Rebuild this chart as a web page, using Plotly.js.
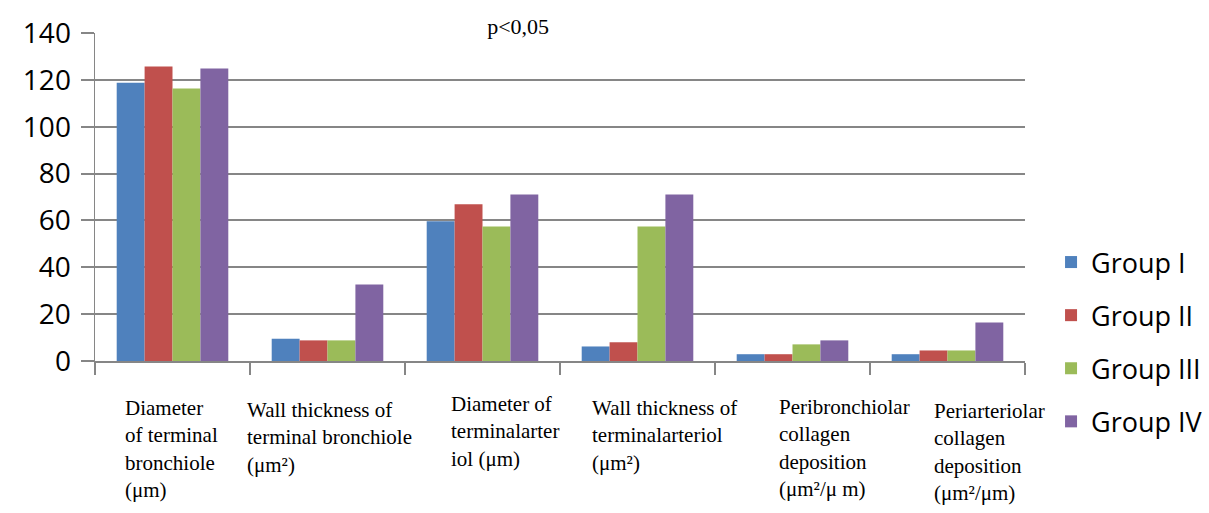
<!DOCTYPE html>
<html>
<head>
<meta charset="utf-8">
<script src="https://cdn.plot.ly/plotly-3.0.1.min.js"></script>
<style>html,body{margin:0;padding:0;background:#fff;}#chart{width:1209px;height:513px;}</style>
</head>
<body>
<div id="chart"></div>
<script>
// ---- data ----
var categories = ['c1', 'c2', 'c3', 'c4', 'c5', 'c6'];
var categoryLabels = [
  'Diameter<br>of terminal<br>bronchiole<br>(μm)',
  'Wall thickness of<br>terminal bronchiole<br>(μm²)',
  'Diameter of<br>terminalarter<br>iol (μm)',
  'Wall thickness of<br>terminalarteriol<br>(μm²)',
  'Peribronchiolar<br>collagen<br>deposition<br>(μm²/μ m)',
  'Periarteriolar<br>collagen<br>deposition<br>(μm²/μm)'
];
var seriesNames = ['Group I', 'Group II', 'Group III', 'Group IV'];
var groupI   = [118.8, 9.5, 59.7, 6.2, 2.9, 2.9];
var groupII  = [125.7, 8.8, 66.9, 8.0, 2.9, 4.5];
var groupIII = [116.3, 8.8, 57.4, 57.4, 7.1, 4.5];
var groupIV  = [124.9, 32.6, 71.1, 71.1, 8.8, 16.4];
var yTicks = [0, 20, 40, 60, 80, 100, 120, 140];

// ---- styles ----
var colors = ['#4F81BD', '#C0504D', '#9BBB59', '#8064A2'];
var labelShift = [-50, -83, -34, -48, -16, -16];
var labelYShift = [-33, -35, -29, -33, -32, -36];
var serif = '"Liberation Serif", "Times New Roman", serif';
var sans = '"Open Sans", "Noto Sans", sans-serif';
var gridColor = '#868686';

var allSeries = [groupI, groupII, groupIII, groupIV];
var traces = allSeries.map(function (vals, i) {
  return {
    type: 'bar',
    x: categories,
    y: vals,
    name: seriesNames[i],
    legendgroup: 'g' + i,
    marker: {color: colors[i]},
    hoverinfo: 'x+y+name'
  };
});

var annotations = categories.map(function (c, i) {
  return {
    x: c, xref: 'x',
    y: 0, yref: 'paper',
    yanchor: 'top', xanchor: 'left', align: 'left',
    xshift: labelShift[i], yshift: labelYShift[i],
    text: categoryLabels[i],
    showarrow: false,
    font: {family: serif, size: 21, color: '#000'}
  };
});

var layout = {
  width: 1209, height: 513,
  paper_bgcolor: '#fff', plot_bgcolor: '#fff',
  margin: {l: 95, r: 184, t: 33, b: 152, autoexpand: false},
  title: {
    text: 'p&lt;0,05',
    font: {family: serif, size: 22, color: '#000'},
    xref: 'paper', x: 0.455, xanchor: 'center',
    yref: 'container', y: 0.948, yanchor: 'middle'
  },
  barmode: 'group',
  bargap: 0.28,
  bargroupgap: 0,
  xaxis: {
    type: 'category',
    range: [-0.5, categories.length - 0.5],
    autorange: false,
    showticklabels: false,
    showgrid: false,
    showline: true, linecolor: gridColor, linewidth: 2,
    ticks: 'outside', tickson: 'boundaries', ticklen: 12, tickcolor: gridColor, tickwidth: 1.5,
    zeroline: false,
    fixedrange: true
  },
  yaxis: {
    range: [0, 140],
    autorange: false,
    tickvals: yTicks,
    showgrid: true, gridcolor: gridColor, gridwidth: 2,
    showline: true, linecolor: gridColor, linewidth: 1.5,
    ticks: 'outside', ticklen: 13, tickcolor: gridColor, tickwidth: 2,
    ticklabelstandoff: 4,
    tickfont: {family: sans, size: 28, color: '#000'},
    zeroline: false,
    fixedrange: true
  },
  showlegend: true,
  legend: {
    x: 1.028, xanchor: 'left',
    y: 0.375, yanchor: 'top',
    font: {family: sans, size: 27, color: '#000'},
    tracegroupgap: 15,
    bgcolor: 'rgba(0,0,0,0)'
  },
  annotations: annotations
};

Plotly.newPlot('chart', traces, layout, {displayModeBar: false, staticPlot: true});
</script>
</body>
</html>
